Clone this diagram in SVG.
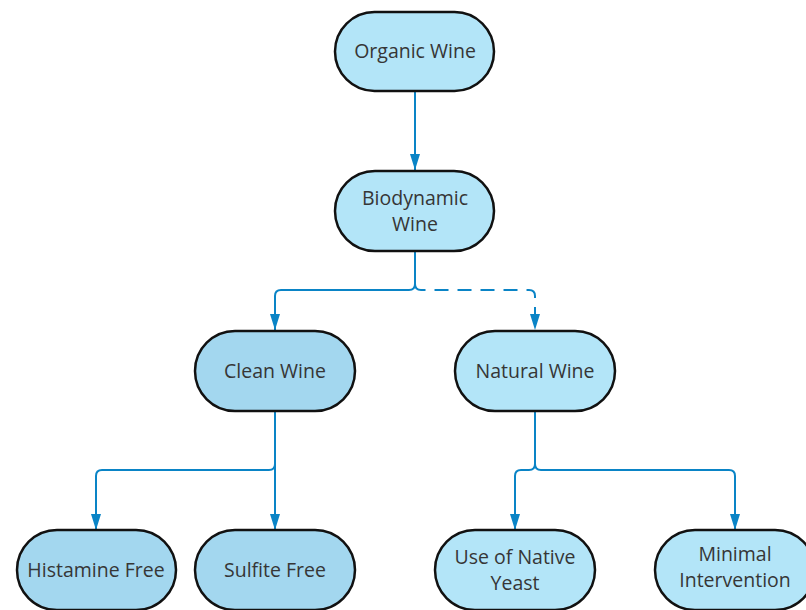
<svg xmlns="http://www.w3.org/2000/svg" width="806" height="610" viewBox="0 0 806 610">
<defs>
<style>
.n{stroke:#111;stroke-width:2.5;}
.a{fill:#b3e5f8;}
.b{fill:#a3d7ef;}
.t{font-family:"Open Sans","Noto Sans",sans-serif;font-size:19.5px;fill:#363636;text-anchor:middle;}
.c{fill:none;stroke:#0a84c6;stroke-width:2;}
</style>
<marker id="ar" viewBox="0 0 16 10" refX="16" refY="5" markerWidth="16" markerHeight="10" markerUnits="userSpaceOnUse" orient="auto">
<path d="M0,0 L16,5 L0,10 Z" fill="#0a84c6"/>
</marker>
</defs>
<rect width="806" height="610" fill="#fff"/>
<g id="connectors">
<path class="c" d="M415,91 V170" marker-end="url(#ar)"/>
<path class="c" d="M415,251 V284 Q415,290 409,290 H281 Q275,290 275,296 V330" marker-end="url(#ar)"/>
<path class="c" d="M415,284 Q415,290 421,290 H529 Q535,290 535,296 V330" stroke-dasharray="14,9" marker-end="url(#ar)"/>
<path class="c" d="M275,411 V530" marker-end="url(#ar)"/>
<path class="c" d="M275,464 Q275,470 269,470 H102 Q96,470 96,476 V530" marker-end="url(#ar)"/>
<path class="c" d="M535,411 V464 Q535,470 529,470 H521 Q515,470 515,476 V530" marker-end="url(#ar)"/>
<path class="c" d="M535,464 Q535,470 541,470 H729 Q735,470 735,476 V530" marker-end="url(#ar)"/>
</g>
<g id="organic">
<rect class="n a" x="335" y="12" width="159" height="79" rx="39.5"/>
<text class="t" x="415" y="58">Organic Wine</text>
</g>
<g id="biodynamic">
<rect class="n a" x="335" y="171" width="159" height="80" rx="40"/>
<text class="t" x="415" y="205">Biodynamic<tspan x="415" dy="26">Wine</tspan></text>
</g>
<g id="clean">
<rect class="n b" x="195" y="331" width="160" height="80" rx="40"/>
<text class="t" x="275" y="378">Clean Wine</text>
</g>
<g id="natural">
<rect class="n a" x="455" y="331" width="160" height="80" rx="40"/>
<text class="t" x="535" y="378">Natural Wine</text>
</g>
<g id="histamine">
<rect class="n b" x="17" y="530" width="159" height="80" rx="40"/>
<text class="t" x="96" y="577">Histamine Free</text>
</g>
<g id="sulfite">
<rect class="n b" x="195" y="530" width="160" height="80" rx="40"/>
<text class="t" x="275" y="577">Sulfite Free</text>
</g>
<g id="yeast">
<rect class="n a" x="435" y="530" width="160" height="80" rx="40"/>
<text class="t" x="515" y="564">Use of Native<tspan x="515" dy="26">Yeast</tspan></text>
</g>
<g id="minimal">
<rect class="n a" x="655" y="530" width="160" height="80" rx="40"/>
<text class="t" x="735" y="561">Minimal<tspan x="735" dy="26">Intervention</tspan></text>
</g>
</svg>
